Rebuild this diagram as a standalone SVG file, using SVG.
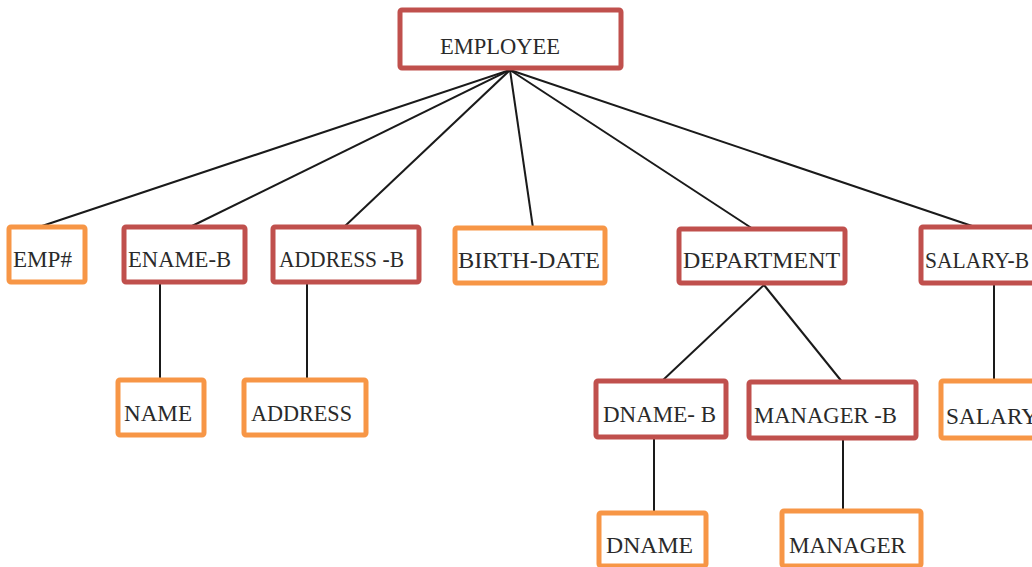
<svg xmlns="http://www.w3.org/2000/svg" width="1032" height="567" viewBox="0 0 1032 567">
<style>
.r{fill:#fff;stroke:#c0504d;stroke-width:5}
.o{fill:#fff;stroke:#f79646;stroke-width:5}
text{font-family:"Liberation Serif","DejaVu Serif",serif;font-size:23px;fill:#2a2a2a}
.c{stroke:#1a1a1a;stroke-width:2;fill:none}
</style>
<rect width="1032" height="567" fill="#fff"/>
<g id="connectors">
<line class="c" x1="510" y1="70" x2="42" y2="226"/>
<line class="c" x1="510" y1="70" x2="190" y2="227"/>
<line class="c" x1="510" y1="70" x2="344" y2="227"/>
<line class="c" x1="510" y1="70" x2="533" y2="228"/>
<line class="c" x1="510" y1="70" x2="753" y2="229"/>
<line class="c" x1="510" y1="70" x2="978" y2="228"/>
<line class="c" x1="160" y1="283" x2="160" y2="380"/>
<line class="c" x1="307" y1="283" x2="307" y2="380"/>
<line class="c" x1="764" y1="285" x2="662" y2="381"/>
<line class="c" x1="764" y1="285" x2="843" y2="383"/>
<line class="c" x1="994" y1="285" x2="994" y2="381"/>
<line class="c" x1="654" y1="437" x2="654" y2="514"/>
<line class="c" x1="843" y1="438" x2="843" y2="512"/>
</g>
<g id="employee"><rect class="r" x="400" y="10" width="221" height="58" rx="2"/><text x="440" y="54" textLength="120" lengthAdjust="spacingAndGlyphs">EMPLOYEE</text></g>
<g id="emp"><rect class="o" x="9" y="227" width="76" height="55" rx="2"/><text x="13" y="267" textLength="59" lengthAdjust="spacingAndGlyphs">EMP#</text></g>
<g id="ename-b"><rect class="r" x="124" y="227" width="121" height="55" rx="2"/><text x="128" y="267" textLength="103" lengthAdjust="spacingAndGlyphs">ENAME-B</text></g>
<g id="address-b"><rect class="r" x="273" y="227" width="146" height="55" rx="2"/><text x="279" y="267" textLength="125" lengthAdjust="spacingAndGlyphs">ADDRESS -B</text></g>
<g id="birth-date"><rect class="o" x="455" y="228" width="150" height="55" rx="2"/><text x="458" y="268" textLength="142" lengthAdjust="spacingAndGlyphs">BIRTH-DATE</text></g>
<g id="department"><rect class="r" x="679" y="229" width="166" height="54" rx="2"/><text x="683" y="268" textLength="157" lengthAdjust="spacingAndGlyphs">DEPARTMENT</text></g>
<g id="salary-b"><rect class="r" x="921" y="227" width="120" height="56" rx="2"/><text x="925" y="268" textLength="104" lengthAdjust="spacingAndGlyphs">SALARY-B</text></g>
<g id="name"><rect class="o" x="118" y="380" width="86" height="55" rx="2"/><text x="124" y="421" textLength="68" lengthAdjust="spacingAndGlyphs">NAME</text></g>
<g id="address"><rect class="o" x="244" y="380" width="122" height="55" rx="2"/><text x="251" y="421" textLength="101" lengthAdjust="spacingAndGlyphs">ADDRESS</text></g>
<g id="dname-b"><rect class="r" x="596" y="381" width="130" height="56" rx="2"/><text x="603" y="422" textLength="113" lengthAdjust="spacingAndGlyphs">DNAME- B</text></g>
<g id="manager-b"><rect class="r" x="749" y="382" width="167" height="56" rx="2"/><text x="754" y="423" textLength="143" lengthAdjust="spacingAndGlyphs">MANAGER -B</text></g>
<g id="salary"><rect class="o" x="941" y="381" width="100" height="57" rx="2"/><text x="946" y="424" textLength="92" lengthAdjust="spacingAndGlyphs">SALARY</text></g>
<g id="dname"><rect class="o" x="599" y="513" width="107" height="53" rx="2"/><text x="606" y="553" textLength="87" lengthAdjust="spacingAndGlyphs">DNAME</text></g>
<g id="manager"><rect class="o" x="782" y="511" width="139" height="55" rx="2"/><text x="789" y="553" textLength="117" lengthAdjust="spacingAndGlyphs">MANAGER</text></g>
</svg>
